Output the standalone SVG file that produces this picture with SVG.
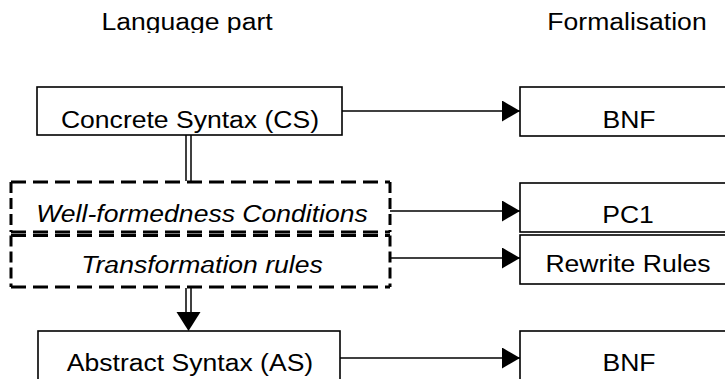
<svg xmlns="http://www.w3.org/2000/svg" width="725" height="379" viewBox="0 0 725 379">
  <defs>
    <style>
      .lbl { font-family: "Liberation Sans", Arial, sans-serif; font-size: 23.5px; fill: #000; text-anchor: middle; }
      .it { font-style: italic; }
      .box { fill: #fff; stroke: #000; stroke-width: 1.6; }
      .dh { fill: none; stroke: #000; stroke-width: 3; stroke-dasharray: 15 7; }
      .dv { fill: none; stroke: #000; stroke-width: 3; stroke-dasharray: 11 5; }
      .wire { fill: none; stroke: #000; stroke-width: 1.5; }
      .head { fill: #000; stroke: none; }
    </style>
    <clipPath id="titleClip">
      <rect x="0" y="0" width="725" height="33"/>
    </clipPath>
    <marker id="arrow" viewBox="0 0 18 21" refX="18" refY="10.5" markerWidth="18" markerHeight="21" markerUnits="userSpaceOnUse" orient="auto">
      <path class="head" d="M0,0 L18,10.5 L0,21 Z"/>
    </marker>
  </defs>

  <!-- column headings -->
  <g id="headings" clip-path="url(#titleClip)">
    <text class="lbl" transform="translate(187,30) scale(1.13,1)">Language part</text>
    <text class="lbl" transform="translate(627,30) scale(1.13,1)">Formalisation</text>
  </g>

  <!-- connectors -->
  <g id="connectors">
    <line class="wire" x1="342" y1="111" x2="520" y2="111" marker-end="url(#arrow)"/>
    <line class="wire" x1="390" y1="211" x2="520" y2="211" marker-end="url(#arrow)"/>
    <line class="wire" x1="390" y1="258" x2="520" y2="258" marker-end="url(#arrow)"/>
    <line class="wire" x1="340" y1="358" x2="520" y2="358" marker-end="url(#arrow)"/>
    <!-- double line CS to conditions -->
    <line class="wire" x1="186" y1="135" x2="186" y2="181"/>
    <line class="wire" x1="191" y1="135" x2="191" y2="181"/>
    <!-- double arrow rules to AS -->
    <line class="wire" x1="186" y1="288" x2="186" y2="314"/>
    <line class="wire" x1="191" y1="288" x2="191" y2="314"/>
    <path class="head" d="M176.5,312 L200.5,312 L188.5,331 Z"/>
  </g>

  <!-- language part -->
  <g id="cs">
    <rect class="box" x="37" y="87" width="305" height="48"/>
    <text class="lbl" transform="translate(190,128) scale(1.13,1)">Concrete Syntax (CS)</text>
  </g>

  <g id="wf">
    <path class="dh" d="M11,182 H390 M11,232 H390"/>
    <path class="dv" d="M11,182 V232 M390,182 V232"/>
    <text class="lbl it" transform="translate(202,222) scale(1.13,1)">Well-formedness Conditions</text>
  </g>

  <g id="tr">
    <path class="dh" d="M11,235.5 H390 M11,287 H390"/>
    <path class="dv" d="M11,235.5 V287 M390,235.5 V287"/>
    <text class="lbl it" transform="translate(202,273) scale(1.13,1)">Transformation rules</text>
  </g>

  <g id="as">
    <rect class="box" x="38" y="331" width="302" height="60"/>
    <text class="lbl" transform="translate(190,371) scale(1.13,1)">Abstract Syntax (AS)</text>
  </g>

  <!-- formalisation -->
  <g id="bnf1">
    <rect class="box" x="520" y="87" width="220" height="49"/>
    <text class="lbl" transform="translate(629,128) scale(1.13,1)">BNF</text>
  </g>

  <g id="pc1">
    <rect class="box" x="520" y="183" width="220" height="49"/>
    <text class="lbl" transform="translate(628,223) scale(1.13,1)">PC1</text>
  </g>

  <g id="rewrite">
    <rect class="box" x="520" y="235" width="220" height="49"/>
    <text class="lbl" transform="translate(628,272) scale(1.13,1)">Rewrite Rules</text>
  </g>

  <g id="bnf2">
    <rect class="box" x="520" y="331" width="220" height="60"/>
    <text class="lbl" transform="translate(629,371) scale(1.13,1)">BNF</text>
  </g>
</svg>
